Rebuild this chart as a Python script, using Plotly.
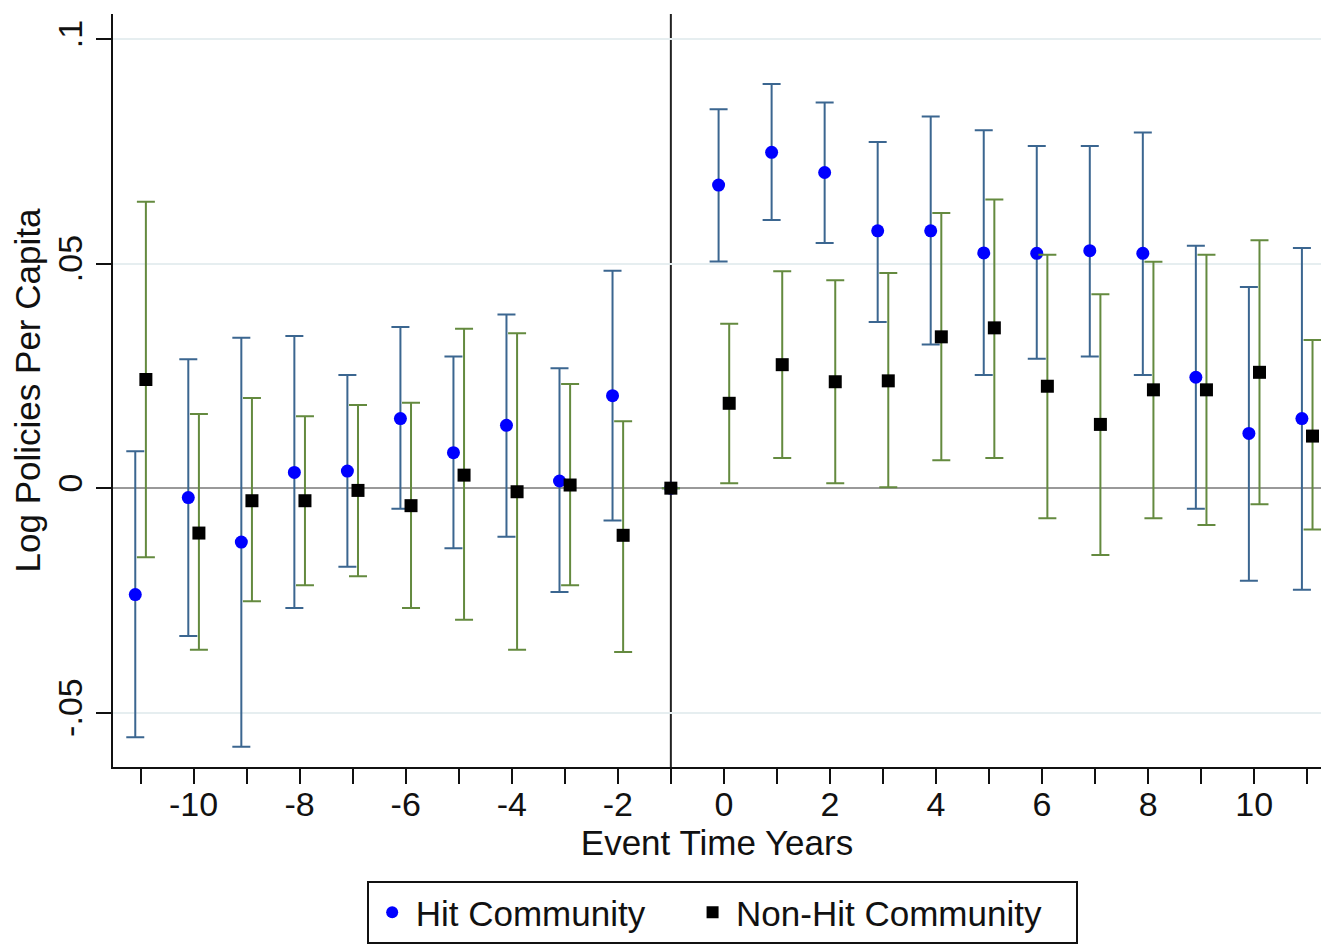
import plotly.graph_objects as go

# Event time (years relative to the event)
years = list(range(-11, 12))

# Hit communities: point estimates and 95% CI bounds
hit_est = [-0.0237, -0.0021, -0.0120, 0.0035, 0.0038, 0.0155, 0.0079, 0.0140, 0.0016, 0.0206, 0.0,
           0.0675, 0.0748, 0.0703, 0.0573, 0.0573, 0.0524, 0.0523, 0.0529, 0.0523, 0.0247, 0.0122, 0.0155]
hit_hi = [0.0082, 0.0287, 0.0335, 0.0339, 0.0252, 0.0359, 0.0293, 0.0387, 0.0267, 0.0484, 0.0,
          0.0844, 0.0900, 0.0859, 0.0771, 0.0828, 0.0797, 0.0762, 0.0762, 0.0792, 0.0540, 0.0448, 0.0535]
hit_lo = [-0.0555, -0.0329, -0.0576, -0.0267, -0.0175, -0.0046, -0.0134, -0.0108, -0.0231, -0.0072, 0.0,
          0.0505, 0.0597, 0.0546, 0.0370, 0.0320, 0.0252, 0.0288, 0.0293, 0.0252, -0.0046, -0.0206, -0.0226]

# Non-hit communities: point estimates and 95% CI bounds
non_est = [0.0242, -0.0100, -0.0028, -0.0028, -0.0005, -0.0039, 0.0029, -0.0008, 0.0007, -0.0105, 0.0,
           0.0189, 0.0275, 0.0237, 0.0239, 0.0337, 0.0357, 0.0227, 0.0142, 0.0219, 0.0219, 0.0258, 0.0116]
non_hi = [0.0638, 0.0165, 0.0201, 0.0160, 0.0185, 0.0190, 0.0355, 0.0345, 0.0232, 0.0149, 0.0,
          0.0366, 0.0483, 0.0463, 0.0479, 0.0613, 0.0643, 0.0520, 0.0432, 0.0504, 0.0520, 0.0552, 0.0330]
non_lo = [-0.0154, -0.0360, -0.0252, -0.0216, -0.0196, -0.0267, -0.0293, -0.0360, -0.0216, -0.0365, 0.0,
          0.0011, 0.0067, 0.0011, 0.0002, 0.0062, 0.0067, -0.0067, -0.0149, -0.0067, -0.0082, -0.0036, -0.0092]

x_ticks = list(range(-11, 12))
x_labels = [str(v) if v % 2 == 0 else "" for v in x_ticks]
y_ticks = [-0.05, 0, 0.05, 0.1]
y_labels = ["-.05", "0", ".05", ".1"]

ref_year = -1     # omitted base period
offset = 0.1      # horizontal dodge between the two groups

FONT = "Liberation Sans, Arial, sans-serif"
BLUE_BAR = "#3b6690"
GREEN_BAR = "#648a3f"
NBSP = "\u00a0"


def dodge(xs, d):
    return [x if x == ref_year else x + d for x in xs]


def err_arrays(est, hi, lo):
    up = [h - e for e, h in zip(est, hi)]
    dn = [e - l for e, l in zip(est, lo)]
    return up, dn


hit_up, hit_dn = err_arrays(hit_est, hit_hi, hit_lo)
non_up, non_dn = err_arrays(non_est, non_hi, non_lo)

fig = go.Figure()

fig.add_trace(go.Scatter(
    x=dodge(years, -offset), y=hit_est, mode="markers", name="Hit Community" + NBSP * 4,
    marker=dict(symbol="circle", size=13, color="#0000ff"),
    error_y=dict(type="data", symmetric=False, array=hit_up, arrayminus=hit_dn,
                 color=BLUE_BAR, thickness=2, width=9),
))
fig.add_trace(go.Scatter(
    x=dodge(years, offset), y=non_est, mode="markers", name="Non-Hit Community" + NBSP * 3,
    marker=dict(symbol="square", size=13, color="#000000"),
    error_y=dict(type="data", symmetric=False, array=non_up, arrayminus=non_dn,
                 color=GREEN_BAR, thickness=2, width=9),
))

# Vertical reference line at the base period
fig.add_shape(type="line", xref="x", yref="paper", x0=ref_year, x1=ref_year, y0=0, y1=1,
              line=dict(color="#222222", width=2), layer="below")

fig.update_layout(
    width=1321, height=944,
    margin=dict(l=113, r=0, t=14, b=177),
    paper_bgcolor="white", plot_bgcolor="white",
    font=dict(family=FONT, size=34, color="#111111"),
    showlegend=True,
    legend=dict(
        orientation="h", x=0.21, xanchor="left", y=-0.152, yanchor="top",
        bordercolor="#111111", borderwidth=2, bgcolor="white",
        font=dict(family=FONT, size=35, color="#111111"),
        itemwidth=37, itemsizing="constant",
    ),
    xaxis=dict(
        range=[-11.52, 11.26], tickmode="array", tickvals=x_ticks, ticktext=x_labels,
        ticks="outside", ticklen=15, tickwidth=2, tickcolor="#111111",
        showline=True, linecolor="#111111", linewidth=2, showgrid=False, zeroline=False,
        ticklabelstandoff=-9,
        title=dict(text="Event Time Years", font=dict(size=35), standoff=4),
        tickfont=dict(size=34),
    ),
    yaxis=dict(
        range=[-0.0621, 0.1056], tickmode="array", tickvals=y_ticks, ticktext=y_labels,
        tickangle=-90, ticks="outside", ticklen=15, tickwidth=2, tickcolor="#111111",
        showline=True, linecolor="#111111", linewidth=2,
        showgrid=True, gridcolor="#e6eef0", gridwidth=2,
        zeroline=True, zerolinecolor="#999999", zerolinewidth=2,
        title=dict(text="Log Policies Per Capita", font=dict(size=35), standoff=0),
        tickfont=dict(size=34),
    ),
)

fig.write_html("out.html")
